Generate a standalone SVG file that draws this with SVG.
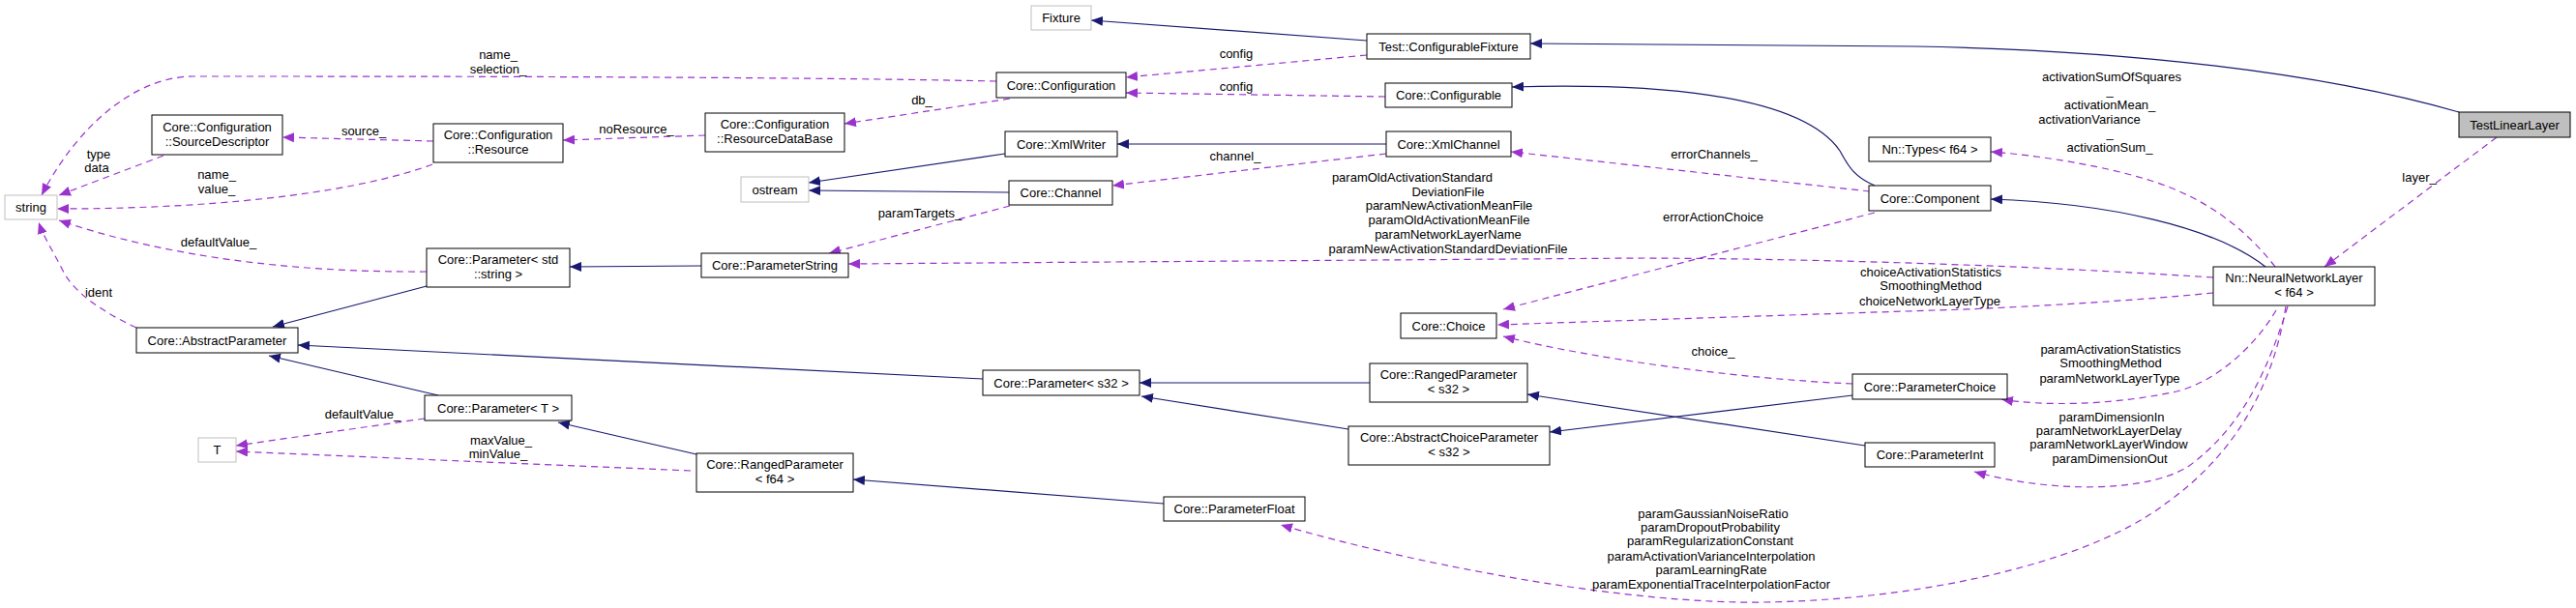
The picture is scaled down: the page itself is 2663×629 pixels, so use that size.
<svg xmlns="http://www.w3.org/2000/svg" width="2663" height="629" viewBox="0 0 2663 629">
<style>
text{font-family:"Liberation Sans",Arial,sans-serif;font-size:13px;fill:#000}
.n text{text-anchor:middle}
.b{fill:#fff;stroke:#000;stroke-width:1}
.g{fill:#fff;stroke:#bfbfbf;stroke-width:1}
.inh{fill:none;stroke:#191970;stroke-width:1.2;marker-end:url(#ab)}
.use{fill:none;stroke:#9a32cd;stroke-width:1.2;stroke-dasharray:7,5;marker-end:url(#ap)}
.lab text{text-anchor:middle}
</style>
<defs>
<marker id="ab" viewBox="0 0 12 10" refX="12" refY="5" markerWidth="12" markerHeight="10" markerUnits="userSpaceOnUse" orient="auto"><path d="M0,0L12,5L0,10z" fill="#191970"/></marker>
<marker id="ap" viewBox="0 0 12 10" refX="12" refY="5" markerWidth="12" markerHeight="10" markerUnits="userSpaceOnUse" orient="auto"><path d="M0,0L12,5L0,10z" fill="#9a32cd"/></marker>
</defs>
<rect width="2663" height="629" fill="#fff"/>
<g id="edges">
<path class="inh" d="M1413,42L1128,21"/>
<path class="inh" d="M2542,116C2400,75 2200,52 1980,48L1582,45"/>
<path class="inh" d="M1938,192C1915,182 1910,170 1902,156C1860,95 1700,86 1563,90"/>
<path class="inh" d="M1433,149L1155,149"/>
<path class="inh" d="M1039,159L836,189"/>
<path class="inh" d="M1043,199L836,197"/>
<path class="inh" d="M725,275L589,276"/>
<path class="inh" d="M441,296L282,338"/>
<path class="inh" d="M1016,392L308,357"/>
<path class="inh" d="M453,409L278,368"/>
<path class="inh" d="M720,470L577,437"/>
<path class="inh" d="M1203,521L882,496"/>
<path class="inh" d="M1416,396L1178,396"/>
<path class="inh" d="M1394,444L1180,410"/>
<path class="inh" d="M1915,409L1602,447"/>
<path class="inh" d="M1928,461L1579,408"/>
<path class="inh" d="M2342,276C2290,235 2180,210 2058,206"/>
<path class="use" d="M1030,84C800,79 400,79 200,79C140,79 80,130 43,202"/>
<path class="use" d="M1413,57L1164,80"/>
<path class="use" d="M1432,100L1164,96"/>
<path class="use" d="M1044,102L873,128"/>
<path class="use" d="M729,140L582,145"/>
<path class="use" d="M448,146L292,142"/>
<path class="use" d="M169,161L61,202"/>
<path class="use" d="M447,170C380,195 250,216 59,216"/>
<path class="use" d="M441,281C300,282 170,265 61,228"/>
<path class="use" d="M141,339C100,320 75,300 65,280C55,260 45,245 40,230"/>
<path class="use" d="M1044,213L857,262"/>
<path class="use" d="M1433,159L1150,192"/>
<path class="use" d="M1933,198L1562,157"/>
<path class="use" d="M1938,220L1554,320"/>
<path class="use" d="M2288,287C2100,275 1900,268 1700,267L877,273"/>
<path class="use" d="M2288,303C2200,312 2050,320 2000,321L1548,336"/>
<path class="use" d="M1915,397C1800,392 1650,372 1554,348"/>
<path class="use" d="M2352,276C2320,235 2280,205 2224,187C2170,170 2100,160 2058,157"/>
<path class="use" d="M2581,142L2403,276"/>
<path class="use" d="M2353,321C2330,360 2290,395 2250,405C2180,420 2110,420 2069,413"/>
<path class="use" d="M2365,317C2345,380 2320,440 2263,482C2220,510 2120,510 2041,488"/>
<path class="use" d="M2363,317C2350,400 2310,470 2240,520C2150,590 1950,625 1797,623C1650,620 1450,580 1324,543"/>
<path class="use" d="M439,433L244,461"/>
<path class="use" d="M714,487L244,467"/>
</g>
<g class="lab">
<text x="515" y="61">name_</text><text x="515" y="76">selection_</text>
<text x="376" y="140">source_</text>
<text x="658" y="138">noResource_</text>
<text x="102" y="164">type</text><text x="100" y="178">data</text>
<text x="224" y="185">name_</text><text x="224" y="200">value_</text>
<text x="226" y="255">defaultValue_</text>
<text x="102" y="307">ident</text>
<text x="1278" y="60">config</text><text x="1278" y="94">config</text>
<text x="953" y="108">db_</text>
<text x="1277" y="166">channel_</text>
<text x="951" y="225">paramTargets_</text>
<text x="1772" y="164">errorChannels_</text>
<text x="1771" y="229">errorActionChoice</text>
<text x="1460" y="188">paramOldActivationStandard</text>
<text x="1497" y="203">DeviationFile</text>
<text x="1498" y="217">paramNewActivationMeanFile</text>
<text x="1498" y="232">paramOldActivationMeanFile</text>
<text x="1497" y="247">paramNetworkLayerName</text>
<text x="1497" y="262">paramNewActivationStandardDeviationFile</text>
<text x="1996" y="286">choiceActivationStatistics</text>
<text x="1996" y="300">SmoothingMethod</text>
<text x="1995" y="316">choiceNetworkLayerType</text>
<text x="1771" y="368">choice_</text>
<text x="2183" y="84">activationSumOfSquares</text>
<text x="2181" y="98">_</text>
<text x="2181" y="113">activationMean_</text>
<text x="2160" y="128">activationVariance</text>
<text x="2181" y="142">_</text>
<text x="2181" y="157">activationSum_</text>
<text x="2501" y="188">layer_</text>
<text x="2182" y="366">paramActivationStatistics</text>
<text x="2182" y="380">SmoothingMethod</text>
<text x="2181" y="396">paramNetworkLayerType</text>
<text x="2183" y="436">paramDimensionIn</text>
<text x="2180" y="450">paramNetworkLayerDelay</text>
<text x="2180" y="464">paramNetworkLayerWindow</text>
<text x="2181" y="479">paramDimensionOut</text>
<text x="1771" y="536">paramGaussianNoiseRatio</text>
<text x="1768" y="550">paramDropoutProbability</text>
<text x="1768" y="564">paramRegularizationConstant</text>
<text x="1769" y="580">paramActivationVarianceInterpolation</text>
<text x="1769" y="594">paramLearningRate</text>
<text x="1769" y="609">paramExponentialTraceInterpolationFactor</text>
<text x="375" y="433">defaultValue_</text>
<text x="518" y="460">maxValue_</text><text x="515" y="474">minValue_</text>
</g>
<g id="TestLinearLayer" class="n"><rect x="2542" y="116" width="115" height="26" fill="#bfbfbf" stroke="#000"/><text x="2599.5" y="133.5">TestLinearLayer</text></g>
<g id="TestConfigurableFixture" class="n"><rect class="b" x="1413" y="35" width="169" height="26"/><text x="1497.5" y="52.5">Test::ConfigurableFixture</text></g>
<g id="Fixture" class="n"><rect class="g" x="1066" y="6" width="62" height="25"/><text x="1097" y="23">Fixture</text></g>
<g id="Configuration" class="n"><rect class="b" x="1030" y="75" width="134" height="26"/><text x="1097" y="92.5">Core::Configuration</text></g>
<g id="Configurable" class="n"><rect class="b" x="1432" y="86" width="131" height="25"/><text x="1497.5" y="103">Core::Configurable</text></g>
<g id="ResourceDataBase" class="n"><rect class="b" x="729" y="117" width="144" height="40"/><text x="801" y="133">Core::Configuration</text><text x="801" y="148">::ResourceDataBase</text></g>
<g id="Resource" class="n"><rect class="b" x="448" y="128" width="134" height="40"/><text x="515" y="144">Core::Configuration</text><text x="515" y="159">::Resource</text></g>
<g id="SourceDescriptor" class="n"><rect class="b" x="157" y="119" width="135" height="41"/><text x="224.5" y="136">Core::Configuration</text><text x="224.5" y="151">::SourceDescriptor</text></g>
<g id="string" class="n"><rect class="g" x="5" y="202" width="54" height="25"/><text x="32" y="219">string</text></g>
<g id="XmlWriter" class="n"><rect class="b" x="1039" y="136" width="116" height="26"/><text x="1097" y="153.5">Core::XmlWriter</text></g>
<g id="XmlChannel" class="n"><rect class="b" x="1433" y="136" width="129" height="26"/><text x="1497.5" y="153.5">Core::XmlChannel</text></g>
<g id="ostream" class="n"><rect class="g" x="766" y="183" width="70" height="26"/><text x="801" y="200.5">ostream</text></g>
<g id="Channel" class="n"><rect class="b" x="1043" y="187" width="107" height="25"/><text x="1096.5" y="204">Core::Channel</text></g>
<g id="Component" class="n"><rect class="b" x="1932" y="192" width="126" height="26"/><text x="1995" y="209.5">Core::Component</text></g>
<g id="NnTypes" class="n"><rect class="b" x="1932" y="142" width="126" height="25"/><text x="1995" y="159">Nn::Types&lt; f64 &gt;</text></g>
<g id="ParameterStdString" class="n"><rect class="b" x="441" y="257" width="148" height="40"/><text x="515" y="273">Core::Parameter&lt; std</text><text x="515" y="288">::string &gt;</text></g>
<g id="ParameterString" class="n"><rect class="b" x="725" y="262" width="152" height="25"/><text x="801" y="279">Core::ParameterString</text></g>
<g id="NeuralNetworkLayer" class="n"><rect class="b" x="2288" y="276" width="167" height="40"/><text x="2371.5" y="292">Nn::NeuralNetworkLayer</text><text x="2371.5" y="307">&lt; f64 &gt;</text></g>
<g id="Choice" class="n"><rect class="b" x="1448" y="324" width="99" height="26"/><text x="1497.5" y="341.5">Core::Choice</text></g>
<g id="AbstractParameter" class="n"><rect class="b" x="141" y="339" width="167" height="26"/><text x="224.5" y="356.5">Core::AbstractParameter</text></g>
<g id="ParameterS32" class="n"><rect class="b" x="1016" y="383" width="162" height="26"/><text x="1097" y="400.5">Core::Parameter&lt; s32 &gt;</text></g>
<g id="RangedParameterS32" class="n"><rect class="b" x="1416" y="376" width="163" height="40"/><text x="1497.5" y="392">Core::RangedParameter</text><text x="1497.5" y="407">&lt; s32 &gt;</text></g>
<g id="ParameterChoice" class="n"><rect class="b" x="1915" y="387" width="160" height="26"/><text x="1995" y="404.5">Core::ParameterChoice</text></g>
<g id="ParameterT" class="n"><rect class="b" x="439" y="409" width="152" height="26"/><text x="515" y="426.5">Core::Parameter&lt; T &gt;</text></g>
<g id="T" class="n"><rect class="g" x="205" y="453" width="39" height="25"/><text x="224.5" y="470">T</text></g>
<g id="AbstractChoiceParameter" class="n"><rect class="b" x="1394" y="441" width="208" height="40"/><text x="1498" y="457">Core::AbstractChoiceParameter</text><text x="1498" y="472">&lt; s32 &gt;</text></g>
<g id="ParameterInt" class="n"><rect class="b" x="1928" y="458" width="134" height="25"/><text x="1995" y="475">Core::ParameterInt</text></g>
<g id="RangedParameterF64" class="n"><rect class="b" x="720" y="469" width="162" height="40"/><text x="801" y="485">Core::RangedParameter</text><text x="801" y="500">&lt; f64 &gt;</text></g>
<g id="ParameterFloat" class="n"><rect class="b" x="1203" y="514" width="146" height="25"/><text x="1276" y="531">Core::ParameterFloat</text></g>
</svg>
